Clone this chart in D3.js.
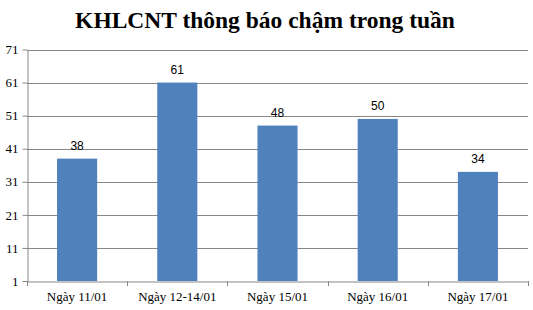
<!DOCTYPE html>
<html><head><meta charset="utf-8">
<script src="https://cdn.jsdelivr.net/npm/d3@7"></script>
<style>body{margin:0;background:#fff}</style>
</head><body>
<svg id="c" width="533" height="310"></svg>
<script>
const categories = ["Ngày 11/01","Ngày 12-14/01","Ngày 15/01","Ngày 16/01","Ngày 17/01"];
const values = [38,61,48,50,34];
const yTicks = [1,11,21,31,41,51,61,71];
const title = "KHLCNT thông báo chậm trong tuần";

const svg = d3.select("#c");
const m = {l:27, r:5, t:49.5, b:29};
const W = 533, H = 310;
const x = d3.scaleBand().domain(categories).range([m.l, W - m.r]).paddingInner(0.6).paddingOuter(0.3);
const xb = d3.scaleBand().domain(categories).range([m.l, W - m.r]);
const y = d3.scaleLinear().domain([1,71]).range([H - m.b, m.t]);

svg.append("text").attr("x",265).attr("y",28).attr("text-anchor","middle")
  .attr("font-family","Liberation Serif").attr("font-weight","bold").attr("font-size",23.5).attr("fill","#000").text(title);

// gridlines
svg.append("g").selectAll("line").data(yTicks.slice(1)).join("line")
  .attr("x1",m.l).attr("x2",W-m.r).attr("y1",d=>Math.round(y(d))+0.5).attr("y2",d=>Math.round(y(d))+0.5)
  .attr("stroke","#878787").attr("stroke-width",1);

// y axis
const ya = svg.append("g").attr("transform",`translate(${m.l+0.5},0)`)
  .call(d3.axisLeft(y).tickValues(yTicks).tickSize(5).tickSizeOuter(0).tickPadding(4));
ya.select(".domain").attr("stroke","#878787");
ya.selectAll(".tick line").attr("stroke","#878787");
ya.selectAll(".tick text").attr("font-family","Liberation Serif").attr("font-size",13).attr("fill","#000");

// bars
svg.append("g").selectAll("rect").data(values).join("rect")
  .attr("x",(d,i)=>x(categories[i])).attr("width",x.bandwidth())
  .attr("y",d=>y(d)).attr("height",d=>y(1)-y(d)).attr("fill","#4F81BD");

// value labels
svg.append("g").selectAll("text").data(values).join("text")
  .attr("x",(d,i)=>x(categories[i])+x.bandwidth()/2).attr("y",d=>y(d)-9)
  .attr("text-anchor","middle").attr("font-family","Liberation Sans").attr("font-size",12).attr("fill","#000")
  .text(d=>d);

// x axis
const xa = svg.append("g").attr("transform",`translate(0,${Math.round(y(1))+0.5})`)
  .call(d3.axisBottom(xb).tickSize(0).tickPadding(10));
xa.select(".domain").attr("stroke","#878787");
xa.selectAll(".tick text").attr("font-family","Liberation Serif").attr("font-size",13).attr("fill","#000");
svg.append("g").selectAll("line").data(d3.range(categories.length+1)).join("line")
  .attr("x1",i=>Math.round(m.l + i*xb.step())+0.5).attr("x2",i=>Math.round(m.l + i*xb.step())+0.5)
  .attr("y1",Math.round(y(1))).attr("y2",Math.round(y(1))+5)
  .attr("stroke","#878787");
</script>
</body></html>
